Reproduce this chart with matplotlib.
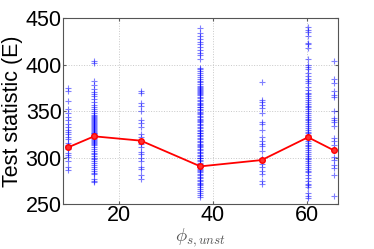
import matplotlib
matplotlib.use("Agg")
import matplotlib.pyplot as plt

# x positions of the groups (phi_s,unst)
phi = [9.1, 14.6, 24.6, 37.3, 50.4, 60.3, 65.8]

# individual test statistic values for each group
e_9 = [375, 372, 361, 352, 348, 344, 340, 336, 333, 330, 328, 325, 322, 320,
       316, 314, 312, 309, 305, 303, 301, 296, 290, 287]
e_15 = [404, 402, 382, 378, 374, 371, 368, 366, 363, 360, 357, 355, 352, 350,
        348, 346, 345, 344, 343, 342, 340, 339, 338, 337, 336, 335, 334, 333,
        332, 331, 330, 329, 328, 327, 326, 325, 324, 323, 322, 321, 320, 319,
        318, 317, 316, 315, 313, 311, 309, 307, 305, 304, 302, 300, 298, 296,
        294, 292, 290, 288, 286, 283, 282, 277, 275, 274]
e_25 = [372, 370, 359, 356, 350, 340, 337, 333, 325, 322, 318, 315, 311, 306,
        304, 300, 296, 290, 288, 281, 277]
e_37 = [440, 434, 431, 428, 425, 422, 419, 416, 413, 411, 406, 397, 395, 393,
        391, 389, 387, 385, 383, 381, 379, 377, 376, 375, 374, 373, 372, 371,
        370, 368, 367, 365, 364, 362, 361, 359, 358, 357, 355, 354, 352, 351,
        349, 348, 347, 345, 344, 342, 341, 339, 338, 336, 335, 333, 332, 330,
        329, 327, 326, 324, 323, 321, 320, 318, 317, 315, 314, 312, 311, 309,
        308, 306, 305, 303, 302, 300, 299, 297, 296, 294, 293, 291, 290, 288,
        287, 285, 284, 282, 281, 279, 278, 276, 275, 273, 272, 270, 268, 266,
        264, 262, 260, 258]
e_50 = [381, 362, 360, 357, 353, 348, 338, 336, 330, 322, 318, 315, 312, 307,
        300, 297, 293, 290, 285, 282, 275, 272]
e_60 = [441, 437, 435, 431, 423, 422, 418, 406, 400, 398, 395, 391, 388, 385,
        382, 380, 376, 373, 370, 368, 366, 364, 362, 360, 358, 356, 354, 352,
        350, 348, 346, 344, 342, 340, 338, 336, 334, 332, 330, 328, 326, 324,
        322, 320, 318, 316, 314, 312, 310, 308, 306, 304, 302, 300, 298, 296,
        294, 292, 290, 288, 286, 284, 281, 278, 275, 272, 270, 268, 262, 259,
        256]
e_66 = [404, 385, 380, 372, 367, 365, 350, 343, 341, 338, 334, 321, 318, 313,
        309, 301, 297, 292, 289, 281, 259]
groups = [e_9, e_15, e_25, e_37, e_50, e_60, e_66]

# group means (red line)
means = [311.1, 322.9, 318.2, 290.5, 297.3, 321.9, 307.8]

x_ticks = [20, 40, 60]
y_ticks = [250, 300, 350, 400, 450]

plt.rcParams['font.family'] = ['Liberation Sans', 'DejaVu Sans']
plt.rcParams['mathtext.fontset'] = 'cm'

fig = plt.figure(figsize=(3.74, 2.49), dpi=100)
ax = fig.add_axes([0.169, 0.181, 0.736, 0.745])

for x, vals in zip(phi, groups):
    ax.plot([x] * len(vals), vals, '+', color='#0000ff', alpha=0.5,
            markersize=4, markeredgewidth=0.8)

ax.plot(phi, means, '-o', color='#ff0000', linewidth=1.3, markersize=4,
        markerfacecolor='#ff3030', markeredgecolor='#ff0000')

ax.set_xlim(8.0, 66.8)
ax.set_ylim(250, 450)
ax.set_xticks(x_ticks)
ax.set_yticks(y_ticks)
ax.grid(True, linestyle=':', color='#c8c8c8', linewidth=0.7)
ax.tick_params(direction='in', length=2.5, labelsize=15.5, top=True, right=True,
               color='#606060', pad=1)
for s in ax.spines.values():
    s.set_color('#555555')
    s.set_linewidth(0.8)

ax.set_ylabel('Test statistic (E)', fontsize=15.5, labelpad=2)
ax.set_xlabel(r'$\phi_{s,unst}$', fontsize=13.5, color='#555555', labelpad=0)

fig.savefig('out.png', dpi=100)
